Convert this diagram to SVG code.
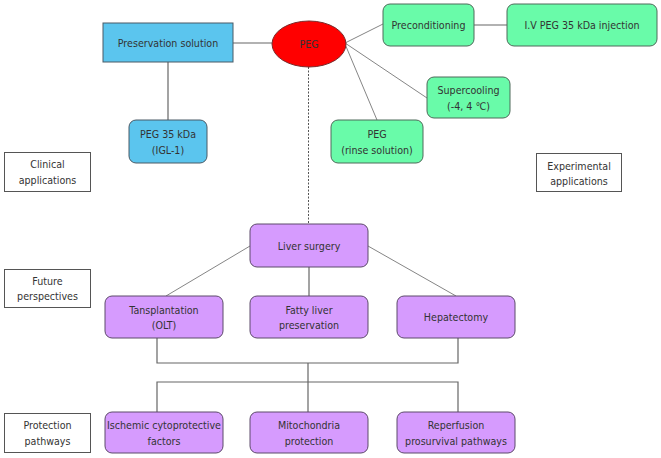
<svg xmlns="http://www.w3.org/2000/svg" width="661" height="458" viewBox="0 0 661 458">
<style>
text{font-family:"DejaVu Sans Condensed","Liberation Sans",sans-serif;font-size:10.6px;fill:#333;text-anchor:middle;dominant-baseline:central}
.blue{fill:#5BC5EE;stroke:#4a5a66;stroke-width:1}
.green{fill:#69FBA9;stroke:#4f6a5a;stroke-width:1}
.purple{fill:#D69BFE;stroke:#5d4a6a;stroke-width:1}
.label{fill:#fff;stroke:#555;stroke-width:1}
.c{stroke:#666;stroke-width:1.2;fill:none}
.thin{stroke:#777;stroke-width:0.9;fill:none}
.dash{stroke:#555;stroke-width:1;stroke-dasharray:2,1.5;fill:none}
</style>
<rect width="661" height="458" fill="#fff"/>
<g id="connectors">
<line class="c" x1="233" y1="43" x2="272" y2="43"/>
<line class="c" x1="168" y1="62" x2="168" y2="120"/>
<line class="dash" x1="308.5" y1="67" x2="308.5" y2="224"/>
<line class="thin" x1="345" y1="43" x2="383" y2="24"/>
<line class="thin" x1="345" y1="43" x2="427" y2="98"/>
<line class="thin" x1="345" y1="44" x2="377" y2="120"/>
<line class="c" x1="474" y1="25" x2="507" y2="25"/>
<line class="thin" x1="250" y1="246" x2="166" y2="296"/>
<line class="thin" x1="368" y1="246" x2="456" y2="296"/>
<line class="c" x1="309" y1="267" x2="309" y2="296"/>
<polyline class="c" points="157,338 157,363 458,363 458,338"/>
<polyline class="c" points="157,412 157,382 458,382 458,412"/>
<line class="c" x1="308" y1="363" x2="308" y2="412"/>
</g>
<g id="preservation"><rect class="blue" x="103" y="23" width="130" height="39"/><text x="168" y="43">Preservation solution</text></g>
<g id="peg"><ellipse cx="309" cy="44" rx="37" ry="23" fill="#FF0000" stroke="#7a2a2a" stroke-width="1"/><text x="309" y="44">PEG</text></g>
<g id="peg35"><rect class="blue" x="129" y="120" width="78" height="43" rx="7"/><text x="168" y="134">PEG 35 kDa</text><text x="168" y="150">(IGL-1)</text></g>
<g id="rinse"><rect class="green" x="331" y="120" width="92" height="43" rx="7"/><text x="377" y="134">PEG</text><text x="377" y="150">(rinse solution)</text></g>
<g id="preconditioning"><rect class="green" x="383" y="4" width="91" height="42" rx="7"/><text x="428.5" y="25">Preconditioning</text></g>
<g id="iv"><rect class="green" x="507" y="4" width="150" height="42" rx="7"/><text x="582" y="25">I.V PEG 35 kDa injection</text></g>
<g id="supercooling"><rect class="green" x="427" y="77" width="83" height="41" rx="7"/><text x="468.5" y="90">Supercooling</text><text x="468.5" y="106">(-4, 4 ℃)</text></g>
<g id="clinical"><rect class="label" x="4.5" y="152.5" width="86" height="39"/><text x="47.5" y="164">Clinical</text><text x="47.5" y="180">applications</text></g>
<g id="experimental"><rect class="label" x="536.5" y="153.5" width="85" height="38"/><text x="579" y="166">Experimental</text><text x="579" y="181">applications</text></g>
<g id="future"><rect class="label" x="4.5" y="269.5" width="86" height="38"/><text x="47.5" y="281">Future</text><text x="47.5" y="296">perspectives</text></g>
<g id="protection"><rect class="label" x="4.5" y="413.5" width="86" height="39"/><text x="47.5" y="425">Protection</text><text x="47.5" y="441">pathways</text></g>
<g id="liver"><rect class="purple" x="250" y="224" width="118" height="43" rx="7"/><text x="309" y="245.5">Liver surgery</text></g>
<g id="tansplantation"><rect class="purple" x="105" y="296" width="118" height="42" rx="7"/><text x="164" y="310">Tansplantation</text><text x="164" y="325">(OLT)</text></g>
<g id="fatty"><rect class="purple" x="250" y="296" width="118" height="42" rx="7"/><text x="309" y="310">Fatty liver</text><text x="309" y="325">preservation</text></g>
<g id="hepatectomy"><rect class="purple" x="397" y="296" width="118" height="42" rx="7"/><text x="456" y="317">Hepatectomy</text></g>
<g id="ischemic"><rect class="purple" x="105" y="412" width="118" height="41" rx="7"/><text x="164" y="425">Ischemic cytoprotective</text><text x="164" y="441">factors</text></g>
<g id="mitochondria"><rect class="purple" x="250" y="412" width="118" height="41" rx="7"/><text x="309" y="425">Mitochondria</text><text x="309" y="441">protection</text></g>
<g id="reperfusion"><rect class="purple" x="397" y="412" width="118" height="41" rx="7"/><text x="456" y="425">Reperfusion</text><text x="456" y="441">prosurvival pathways</text></g>
</svg>
